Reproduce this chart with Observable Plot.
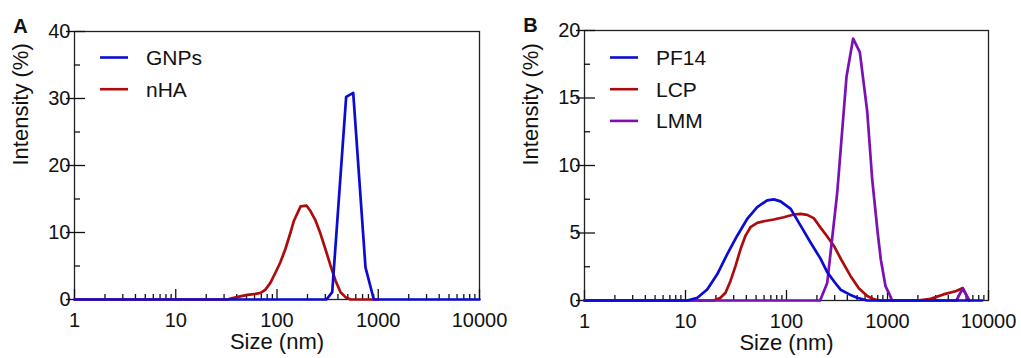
<!DOCTYPE html>
<html><head><meta charset="utf-8">
<script src="https://cdn.jsdelivr.net/npm/d3@7"></script>
<script src="https://cdn.jsdelivr.net/npm/@observablehq/plot@0.6"></script>
<style>
body{margin:0;background:#fff;}
#wrap{display:flex;width:1021px;height:358px;}
svg text{font-family:"Liberation Sans",Arial,sans-serif;}
</style></head><body><div id="wrap"></div>
<script>
// ---------- Data ----------
// Panel A
const gnpSize = [1, 308, 351, 482, 566, 748, 904, 10000];
const gnpVal  = [0, 0, 1.1, 30.25, 30.85, 4.8, 0, 0];
const nhaSize = [1, 32, 40, 51, 59, 69, 77, 86, 97, 108, 121, 136, 147, 171, 196, 214, 240, 269, 301, 338, 378, 424, 475, 532, 1000];
const nhaVal  = [0, 0, 0.35, 0.69, 0.79, 0.99, 1.49, 2.48, 4.07, 5.56, 7.54, 10.0, 11.76, 13.9, 14.0, 13.2, 11.8, 9.8, 7.5, 5.06, 2.83, 1.09, 0.35, 0, 0];
// Panel B
const pf14Size = [1, 10.4, 13.1, 16.4, 20.6, 25.9, 32.5, 40.8, 51.3, 64.4, 74.9, 87.3, 110, 138, 173, 217, 253, 300, 343, 420, 501, 630, 8635];
const pf14Val  = [0, 0, 0.2, 0.82, 1.94, 3.43, 4.8, 6.04, 6.92, 7.42, 7.49, 7.34, 6.79, 5.55, 4.3, 3.1, 2.1, 1.35, 0.8, 0.45, 0.2, 0, 0];
const lcpSize = [1, 19.1, 22.2, 24.9, 27.9, 31.3, 35.1, 39.3, 44, 51.3, 59.6, 74.9, 94, 118, 138, 160, 186, 210, 250, 294, 350, 430, 520, 630, 740, 850, 1990, 2669, 3580, 4801, 5560, 6439];
const lcpVal  = [0, 0, 0.2, 0.57, 1.45, 2.57, 3.81, 4.81, 5.43, 5.75, 5.87, 6.0, 6.17, 6.37, 6.42, 6.34, 6.1, 5.55, 4.8, 4.06, 3.0, 1.82, 0.9, 0.33, 0.08, 0, 0, 0.12, 0.45, 0.7, 0.92, 0];
const lmmSize = [1, 215, 253, 318, 393, 457, 532, 630, 705, 800, 860, 955, 1030, 1110, 4801, 5560, 6439];
const lmmVal  = [0, 0, 1.3, 8.0, 16.6, 19.4, 18.4, 14.0, 9.0, 5.0, 3.0, 1.07, 0.57, 0, 0, 0.9, 0];

const xMajor = [1, 10, 100, 1000, 10000];
const xMinor = [2,3,4,5,6,7,8,9,20,30,40,50,60,70,80,90,200,300,400,500,600,700,800,900,2000,3000,4000,5000,6000,7000,8000,9000];
const yMajorA = [0, 10, 20, 30, 40];
const yMinorA = [5, 15, 25, 35];
const yMajorB = [0, 5, 10, 15, 20];
const yMinorB = [2.5, 7.5, 12.5, 17.5];

const xTitle = "Size (nm)";
const yTitle = "Intensity (%)";

const BLUE = "#0c0cd0", RED = "#ad0c0c", PURPLE = "#7a10b6";

const toRows = (s, v) => s.map((d, i) => ({size: d, value: v[i]}));

function legendMark(items) {
  return () => {
    const g = d3.create("svg:g");
    items.forEach((it, i) => {
      const y = 57.5 + i * 31.7;
      g.append("line").attr("x1", 100).attr("x2", 128).attr("y1", y).attr("y2", y)
        .attr("stroke", it.color).attr("stroke-width", 2.6);
      g.append("text").attr("x", 146).attr("y", y).attr("dy", "0.35em")
        .attr("text-anchor", "start")
        .attr("font-size", 21).attr("fill", "#111").text(it.name);
    });
    return g.node();
  };
}

function panel({letter, series, yDomain, yMajor, yMinor, width, marginRight, marginTop}) {
  const fmt = d => String(d);
  return Plot.plot({
    width, height: 358,
    marginLeft: 74, marginRight, marginTop, marginBottom: 358 - 299 - (marginTop === 30 ? 1 : 0),
    style: {background: "white", color: "#111", overflow: "visible"},
    x: {type: "log", domain: [1, 10000]},
    y: {domain: yDomain},
    marks: [
      Plot.frame({stroke: "#222", strokeWidth: 1.3}),
      Plot.axisY({ticks: yMajor, tickSize: 0, tickPadding: 4, tickFormat: fmt, fontSize: 20, label: null}),
      Plot.axisY({ticks: yMajor, tickSize: 8, fill: "none", label: null, strokeWidth: 1.3}),
      Plot.axisY({ticks: yMajor, tickSize: 11, dx: 11, fill: "none", label: null, strokeWidth: 1.3}),
      Plot.axisY({ticks: yMinor, tickSize: 6, dx: 6, fill: "none", label: null, strokeWidth: 1.3}),
      Plot.axisX({ticks: xMajor, tickSize: 0, tickPadding: 13, tickFormat: fmt, fontSize: 20, label: null}),
      Plot.axisX({ticks: xMajor, tickSize: 10, dy: -10, fill: "none", label: null, strokeWidth: 1.3}),
      Plot.axisX({ticks: xMinor, tickSize: 5, dy: -5, fill: "none", label: null, strokeWidth: 1.3}),
      Plot.text([xTitle], {frameAnchor: "bottom", dy: 49, fontSize: 22, fill: "#111"}),
      Plot.text([yTitle], {frameAnchor: "left", rotate: -90, dx: -54, fontSize: 22, fill: "#111"}),
      Plot.text([letter], {frameAnchor: "top-left", textAnchor: "middle", lineAnchor: "middle", dx: -54, dy: -5, fontSize: 20, fontWeight: "bold", fill: "#111"}),
      ...series.map(s => Plot.line(toRows(s.size, s.val), {x: "size", y: "value", stroke: s.color, strokeWidth: 2.7})),
      legendMark(series.slice().sort((a, b) => a.legendOrder - b.legendOrder))
    ]
  });
}

const wrap = document.getElementById("wrap");
wrap.appendChild(panel({
  letter: "A", yDomain: [0, 40], yMajor: yMajorA, yMinor: yMinorA, width: 510, marginRight: 31, marginTop: 31,
  series: [
    {name: "nHA", size: nhaSize, val: nhaVal, color: RED, legendOrder: 1},
    {name: "GNPs", size: gnpSize, val: gnpVal, color: BLUE, legendOrder: 0}
  ]
}));
wrap.appendChild(panel({
  letter: "B", yDomain: [0, 20], yMajor: yMajorB, yMinor: yMinorB, width: 511, marginRight: 33, marginTop: 30,
  series: [
    {name: "LCP", size: lcpSize, val: lcpVal, color: RED, legendOrder: 1},
    {name: "LMM", size: lmmSize, val: lmmVal, color: PURPLE, legendOrder: 2},
    {name: "PF14", size: pf14Size, val: pf14Val, color: BLUE, legendOrder: 0}
  ]
}));
</script></body></html>
